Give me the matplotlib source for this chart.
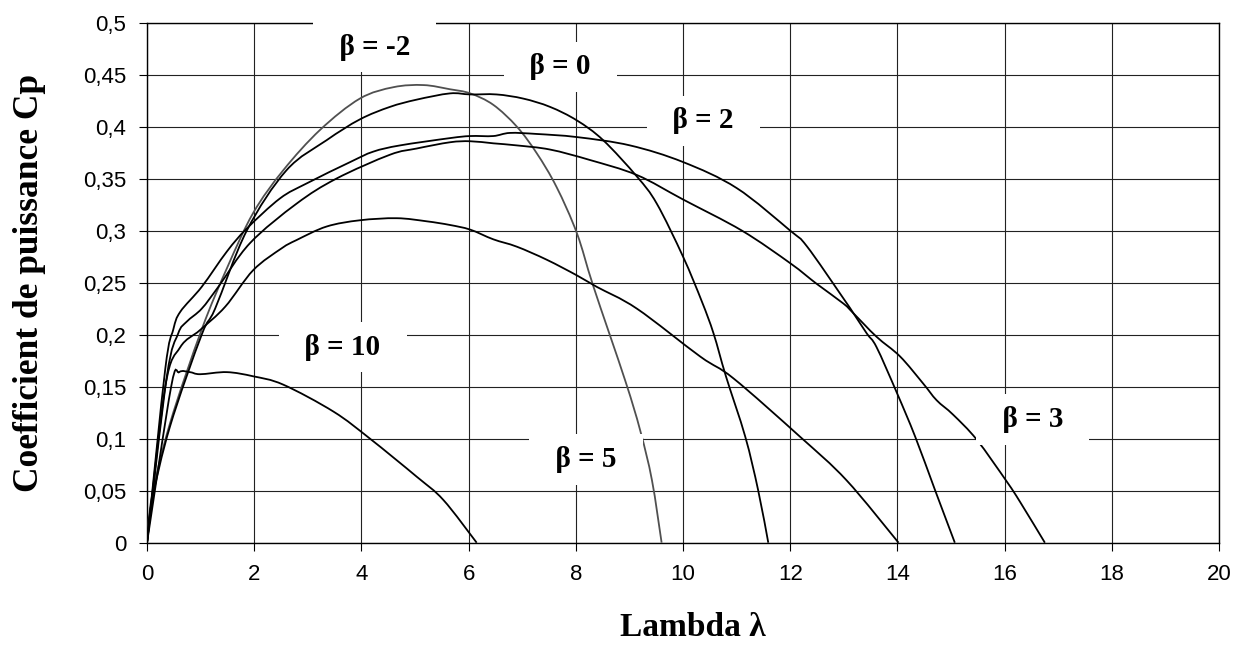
"""Cp(lambda) curves for several pitch angles"""
import matplotlib
matplotlib.use("Agg")
import matplotlib.pyplot as plt
from matplotlib.path import Path
from matplotlib.patches import PathPatch
from matplotlib.ticker import FuncFormatter, MultipleLocator

plt.rcParams['font.family'] = ['Liberation Sans', 'DejaVu Sans']

# curve with the highest peak (drawn in grey)
lam_a = [0, 0.09, 0.43, 1.02, 1.5, 1.98, 2.54, 3.23, 3.97, 4.6, 5.16, 5.65, 6.03,
         6.46, 6.9, 7.27, 7.64, 8.02, 8.33, 8.92, 9.2, 9.42, 9.6]
cp_a = [0, 0.044, 0.115, 0.205, 0.265, 0.317, 0.358, 0.397, 0.427, 0.438, 0.440, 0.436, 0.432,
        0.421, 0.400, 0.3745, 0.342, 0.2975, 0.246, 0.156, 0.108, 0.060, 0]

lam_b = [0, 0.09, 0.43, 1.02, 1.27, 1.86, 2.6, 3.35, 3.97, 4.53, 5.03, 5.65, 6.03, 6.52,
         7.02, 7.52, 8.02, 8.51, 9.14, 9.51, 10.0, 10.35, 10.57, 10.8, 11.16, 11.4, 11.59]
cp_b = [0, 0.04, 0.112, 0.2, 0.225, 0.3, 0.358, 0.387, 0.407, 0.419, 0.426, 0.432, 0.431, 0.431,
        0.427, 0.419, 0.406, 0.387, 0.352, 0.326, 0.275, 0.232, 0.201, 0.16, 0.102, 0.0507, 0]

lam_c = [0, 0.34, 0.49, 0.62, 1.02, 1.49, 1.86, 2.48, 2.98, 3.79, 4.22, 4.72, 5.65, 6.03,
         6.46, 6.77, 7.27, 8.02, 9.01, 10.0, 11.0, 12.0, 12.31, 12.99, 13.18,
         13.43, 13.61, 13.99, 14.33, 14.7, 15.07]
cp_c = [0, 0.167, 0.205, 0.222, 0.246, 0.280, 0.302, 0.331, 0.3455, 0.366, 0.376, 0.382, 0.389, 0.391,
        0.391, 0.394, 0.393, 0.390, 0.382, 0.366, 0.341, 0.300, 0.285, 0.235, 0.2205,
        0.201, 0.188, 0.144, 0.102, 0.0507, 0]

lam_d = [0, 0.37, 0.58, 0.74, 1.02, 1.33, 1.92, 2.79, 3.53, 4.53, 5.03, 5.65, 6.03, 6.46,
         6.9, 7.52, 8.26, 9.14, 10.0, 11.1, 12.0, 12.49, 12.99, 13.18, 13.61, 14.05, 14.48,
         14.73, 15.04, 15.48, 16.04, 16.29, 16.75]
cp_d = [0, 0.16, 0.201, 0.2125, 0.225, 0.246, 0.288, 0.326, 0.350, 0.373, 0.379, 0.385, 0.386, 0.384,
        0.382, 0.378, 0.368, 0.3535, 0.330, 0.300, 0.2687, 0.249, 0.230, 0.2205, 0.198, 0.179, 0.153,
        0.137, 0.123, 0.099, 0.0587, 0.039, 0]

lam_e = [0, 0.34, 0.62, 0.99, 1.46, 1.98, 2.51, 2.79, 3.35, 3.97, 4.66, 5.22, 5.65, 6.03,
         6.46, 6.9, 7.46, 8.02, 8.39, 9.14, 10.32, 10.94, 12.18, 13.05, 14.02]
cp_e = [0, 0.15, 0.188, 0.2045, 0.227, 0.262, 0.283, 0.291, 0.304, 0.310, 0.312, 0.309, 0.3055, 0.301,
        0.2917, 0.2846, 0.272, 0.257, 0.246, 0.225, 0.179, 0.158, 0.102, 0.060, 0]

lam_f = [0, 0.45, 0.6, 0.8, 0.99, 1.49, 1.98, 2.54, 3.48, 4.16, 5.03, 5.53, 6.15]
cp_f = [0, 0.15, 0.164, 0.164, 0.162, 0.164, 0.16, 0.152, 0.126, 0.100, 0.0635, 0.041, 0]

curves = [(lam_a, cp_a, '#505050'), (lam_b, cp_b, 'black'), (lam_c, cp_c, 'black'),
          (lam_d, cp_d, 'black'), (lam_e, cp_e, 'black'), (lam_f, cp_f, 'black')]

# beta labels and where they sit (lambda, Cp)
beta_labels = ["β = -2", "β = 0", "β = 2", "β = 10", "β = 3", "β = 5"]
label_lam = [4.25, 7.71, 10.38, 3.65, 16.52, 8.19]
label_cp = [0.4766, 0.4574, 0.4055, 0.188, 0.1185, 0.080]

serif = ['Liberation Serif', 'DejaVu Serif']


def smooth_path(xs, ys):
    """Excel-like smoothed line: Catmull-Rom segments as cubic Beziers"""
    pts = list(zip(xs, ys))
    verts = [pts[0]]
    codes = [Path.MOVETO]
    n = len(pts)
    for i in range(n - 1):
        p0 = pts[max(i - 1, 0)]
        p1 = pts[i]
        p2 = pts[i + 1]
        p3 = pts[min(i + 2, n - 1)]
        c1 = (p1[0] + (p2[0] - p0[0]) / 6, p1[1] + (p2[1] - p0[1]) / 6)
        c2 = (p2[0] - (p3[0] - p1[0]) / 6, p2[1] - (p3[1] - p1[1]) / 6)
        verts += [c1, c2, p2]
        codes += [Path.CURVE4] * 3
    return Path(verts, codes)


fig = plt.figure(figsize=(12.46, 6.48), dpi=100)
ax = fig.add_axes([0.118, 0.1625, 0.8604, 0.8025])

for lam, cp, col in curves:
    ax.add_patch(PathPatch(smooth_path(lam, cp), facecolor='none', edgecolor=col,
                           lw=1.3, zorder=3))

for txt, lx, ly in zip(beta_labels, label_lam, label_cp):
    ax.text(lx, ly, "  " + txt + "  ", ha='center', va='center', fontsize=21,
            fontweight='bold', family=serif, zorder=6, clip_on=False,
            bbox=dict(facecolor='white', edgecolor='none', boxstyle='square,pad=0.4'))

ax.set_xlim(0, 20)
ax.set_ylim(0, 0.5)
ax.xaxis.set_major_locator(MultipleLocator(2))
ax.yaxis.set_major_locator(MultipleLocator(0.05))
ax.yaxis.set_major_formatter(FuncFormatter(lambda v, p: f"{v:.2f}".rstrip('0').rstrip('.').replace('.', ',')))
ax.grid(True, color='#222222', lw=0.8)
ax.set_axisbelow(True)
for s in ax.spines.values():
    s.set_linewidth(1.0)
ax.tick_params(direction='out', length=6, width=0.8, labelsize=16, pad=9)

ax.set_xlabel("Lambda λ", fontsize=24, fontweight='bold', family=serif)
ax.set_ylabel("Coefficient de puissance Cp", fontsize=25.5, fontweight='bold', family=serif)
ax.xaxis.set_label_coords(0.509, -0.133)
ax.yaxis.set_label_coords(-0.094, 0.5)

fig.savefig("out.png", dpi=100)
